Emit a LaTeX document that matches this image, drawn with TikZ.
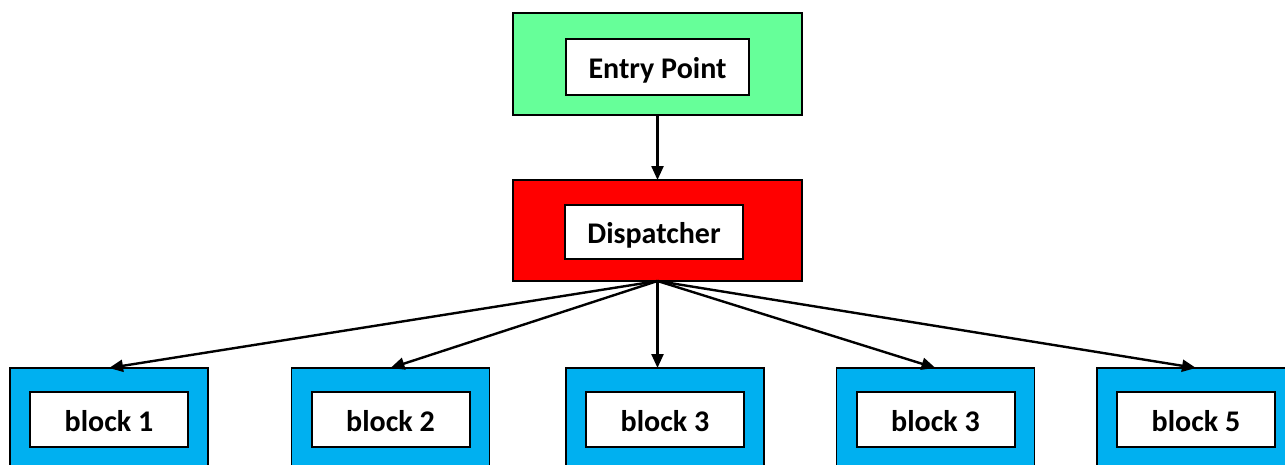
\documentclass[tikz,border=0pt]{standalone}
\usepackage{fontspec}
\setmainfont{Carlito}
\usetikzlibrary{arrows.meta}
\definecolor{entrygreen}{RGB}{102,255,153}
\definecolor{blockblue}{RGB}{0,176,240}

\begin{document}
\begin{tikzpicture}[x=0.5pt,y=-0.5pt,
  frame/.style={draw,line width=0.75pt,inner sep=0pt,outer sep=0pt},
  label box/.style={draw,fill=white,line width=1pt,inner sep=0pt,outer sep=0pt,
    minimum height=27.5pt,text height=11.7pt,text depth=0pt,
    font=\bfseries\fontsize{15}{17}\selectfont},
  link/.style={-{Triangle[length=7pt,width=6pt]},line width=1.2pt}]

\useasboundingbox (0,0) rectangle (1285,465);

% entry point and dispatcher
\node (entry) [frame,fill=entrygreen,minimum width=144.5pt,minimum height=51pt] at (657.5,64) {};
\node (entrytxt) [label box,minimum width=91.5pt,minimum height=28pt] at (657.5,67) {Entry Point};

\node (disp) [frame,fill=red,minimum width=144.5pt,minimum height=50.5pt] at (657.5,230.5) {};
\node (disptxt) [label box,minimum width=89pt,minimum height=27pt] at (654,232) {Dispatcher};

% the blocks
\foreach \x/\n/\t in {109/b1/block 1, 390.5/b2/block 2, 665/b3/block 3, 935.5/b4/block 3, 1196/b5/block 5}{
  \node (\n) [frame,fill=blockblue,minimum width=99pt,minimum height=50.5pt] at (\x,418.5) {};
  \node (\n txt) [label box,minimum width=79pt] at (\x,419.5) {\t};
}

\draw [link] (entry.south) -- (disp.north);

\draw [link] (disp.south) -- (b1.north);
\draw [link] (disp.south) -- (b2.north);
\draw [link] (disp.south) -- (disp.south |- b3.north);
\draw [link] (disp.south) -- (b4.north);
\draw [link] (disp.south) -- (b5.north);

\end{tikzpicture}
\end{document}
